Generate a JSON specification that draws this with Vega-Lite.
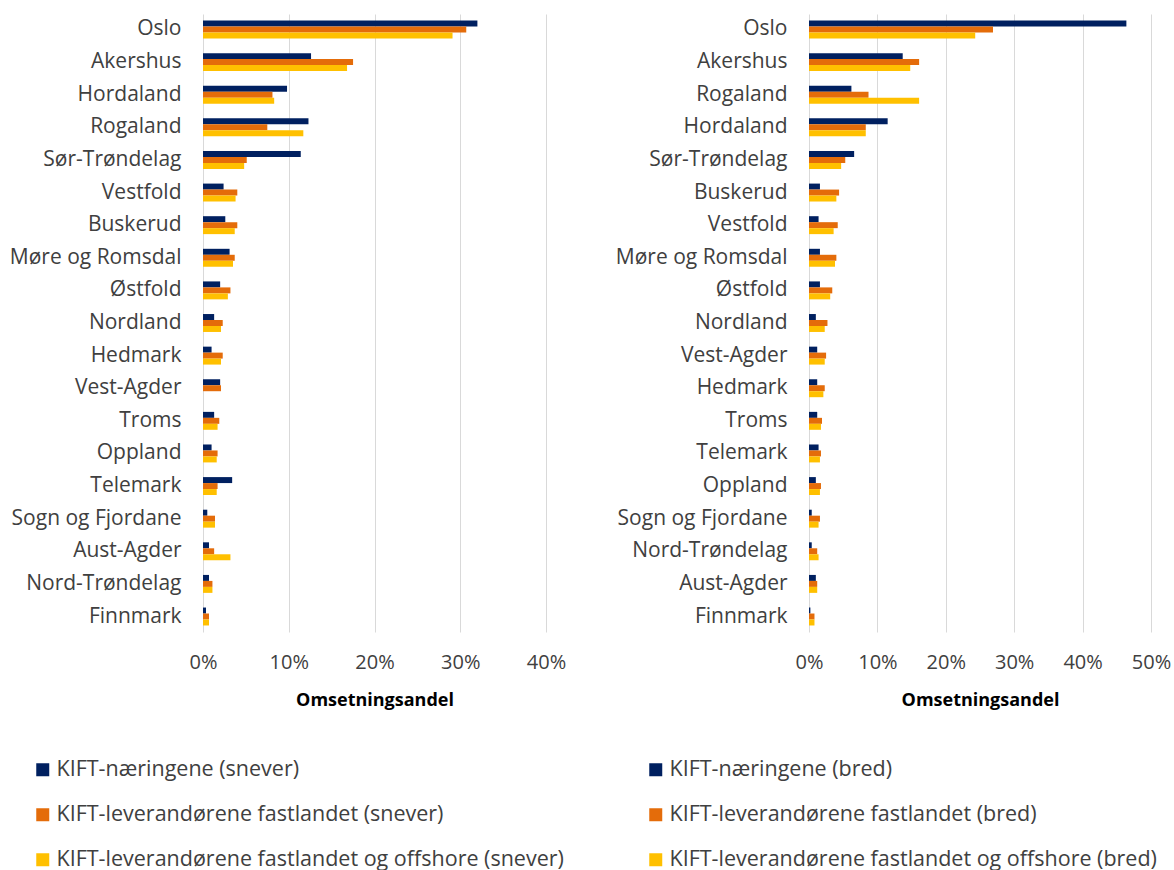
{
  "$schema": "https://vega.github.io/schema/vega-lite/v6.json",
  "padding": {"left": 9, "top": 14, "right": 0, "bottom": 4},
  "background": "white",
  "config": {
    "font": "Open Sans",
    "view": {"stroke": null},
    "axis": {"labelFont": "Open Sans", "titleFont": "Open Sans", "labelColor": "#404040", "domain": false, "ticks": false, "labelLimit": 220},
    "legend": {"labelFont": "Open Sans", "labelFontSize": 21.5, "labelColor": "#404040", "symbolType": "square", "symbolSize": 169, "symbolStrokeWidth": 0, "rowPadding": 22, "padding": 0, "labelOffset": 3, "labelLimit": 700}
  },
  "datasets": {
    "snever": [
      {"region": "Oslo", "serie": "KIFT-næringene (snever)", "andel": 0.320},
      {"region": "Oslo", "serie": "KIFT-leverandørene fastlandet (snever)", "andel": 0.307},
      {"region": "Oslo", "serie": "KIFT-leverandørene fastlandet og offshore (snever)", "andel": 0.291},
      {"region": "Akershus", "serie": "KIFT-næringene (snever)", "andel": 0.126},
      {"region": "Akershus", "serie": "KIFT-leverandørene fastlandet (snever)", "andel": 0.175},
      {"region": "Akershus", "serie": "KIFT-leverandørene fastlandet og offshore (snever)", "andel": 0.168},
      {"region": "Hordaland", "serie": "KIFT-næringene (snever)", "andel": 0.098},
      {"region": "Hordaland", "serie": "KIFT-leverandørene fastlandet (snever)", "andel": 0.081},
      {"region": "Hordaland", "serie": "KIFT-leverandørene fastlandet og offshore (snever)", "andel": 0.083},
      {"region": "Rogaland", "serie": "KIFT-næringene (snever)", "andel": 0.123},
      {"region": "Rogaland", "serie": "KIFT-leverandørene fastlandet (snever)", "andel": 0.075},
      {"region": "Rogaland", "serie": "KIFT-leverandørene fastlandet og offshore (snever)", "andel": 0.117},
      {"region": "Sør-Trøndelag", "serie": "KIFT-næringene (snever)", "andel": 0.114},
      {"region": "Sør-Trøndelag", "serie": "KIFT-leverandørene fastlandet (snever)", "andel": 0.051},
      {"region": "Sør-Trøndelag", "serie": "KIFT-leverandørene fastlandet og offshore (snever)", "andel": 0.048},
      {"region": "Vestfold", "serie": "KIFT-næringene (snever)", "andel": 0.024},
      {"region": "Vestfold", "serie": "KIFT-leverandørene fastlandet (snever)", "andel": 0.040},
      {"region": "Vestfold", "serie": "KIFT-leverandørene fastlandet og offshore (snever)", "andel": 0.038},
      {"region": "Buskerud", "serie": "KIFT-næringene (snever)", "andel": 0.026},
      {"region": "Buskerud", "serie": "KIFT-leverandørene fastlandet (snever)", "andel": 0.040},
      {"region": "Buskerud", "serie": "KIFT-leverandørene fastlandet og offshore (snever)", "andel": 0.037},
      {"region": "Møre og Romsdal", "serie": "KIFT-næringene (snever)", "andel": 0.031},
      {"region": "Møre og Romsdal", "serie": "KIFT-leverandørene fastlandet (snever)", "andel": 0.037},
      {"region": "Møre og Romsdal", "serie": "KIFT-leverandørene fastlandet og offshore (snever)", "andel": 0.035},
      {"region": "Østfold", "serie": "KIFT-næringene (snever)", "andel": 0.020},
      {"region": "Østfold", "serie": "KIFT-leverandørene fastlandet (snever)", "andel": 0.032},
      {"region": "Østfold", "serie": "KIFT-leverandørene fastlandet og offshore (snever)", "andel": 0.029},
      {"region": "Nordland", "serie": "KIFT-næringene (snever)", "andel": 0.013},
      {"region": "Nordland", "serie": "KIFT-leverandørene fastlandet (snever)", "andel": 0.023},
      {"region": "Nordland", "serie": "KIFT-leverandørene fastlandet og offshore (snever)", "andel": 0.021},
      {"region": "Hedmark", "serie": "KIFT-næringene (snever)", "andel": 0.010},
      {"region": "Hedmark", "serie": "KIFT-leverandørene fastlandet (snever)", "andel": 0.023},
      {"region": "Hedmark", "serie": "KIFT-leverandørene fastlandet og offshore (snever)", "andel": 0.021},
      {"region": "Vest-Agder", "serie": "KIFT-næringene (snever)", "andel": 0.020},
      {"region": "Vest-Agder", "serie": "KIFT-leverandørene fastlandet (snever)", "andel": 0.021},
      {"region": "Vest-Agder", "serie": "KIFT-leverandørene fastlandet og offshore (snever)", "andel": 0},
      {"region": "Troms", "serie": "KIFT-næringene (snever)", "andel": 0.013},
      {"region": "Troms", "serie": "KIFT-leverandørene fastlandet (snever)", "andel": 0.019},
      {"region": "Troms", "serie": "KIFT-leverandørene fastlandet og offshore (snever)", "andel": 0.017},
      {"region": "Oppland", "serie": "KIFT-næringene (snever)", "andel": 0.010},
      {"region": "Oppland", "serie": "KIFT-leverandørene fastlandet (snever)", "andel": 0.017},
      {"region": "Oppland", "serie": "KIFT-leverandørene fastlandet og offshore (snever)", "andel": 0.016},
      {"region": "Telemark", "serie": "KIFT-næringene (snever)", "andel": 0.034},
      {"region": "Telemark", "serie": "KIFT-leverandørene fastlandet (snever)", "andel": 0.017},
      {"region": "Telemark", "serie": "KIFT-leverandørene fastlandet og offshore (snever)", "andel": 0.016},
      {"region": "Sogn og Fjordane", "serie": "KIFT-næringene (snever)", "andel": 0.005},
      {"region": "Sogn og Fjordane", "serie": "KIFT-leverandørene fastlandet (snever)", "andel": 0.014},
      {"region": "Sogn og Fjordane", "serie": "KIFT-leverandørene fastlandet og offshore (snever)", "andel": 0.014},
      {"region": "Aust-Agder", "serie": "KIFT-næringene (snever)", "andel": 0.007},
      {"region": "Aust-Agder", "serie": "KIFT-leverandørene fastlandet (snever)", "andel": 0.013},
      {"region": "Aust-Agder", "serie": "KIFT-leverandørene fastlandet og offshore (snever)", "andel": 0.032},
      {"region": "Nord-Trøndelag", "serie": "KIFT-næringene (snever)", "andel": 0.007},
      {"region": "Nord-Trøndelag", "serie": "KIFT-leverandørene fastlandet (snever)", "andel": 0.011},
      {"region": "Nord-Trøndelag", "serie": "KIFT-leverandørene fastlandet og offshore (snever)", "andel": 0.011},
      {"region": "Finnmark", "serie": "KIFT-næringene (snever)", "andel": 0.0035},
      {"region": "Finnmark", "serie": "KIFT-leverandørene fastlandet (snever)", "andel": 0.007},
      {"region": "Finnmark", "serie": "KIFT-leverandørene fastlandet og offshore (snever)", "andel": 0.007}
    ],
    "bred": [
      {"region": "Oslo", "serie": "KIFT-næringene (bred)", "andel": 0.464},
      {"region": "Oslo", "serie": "KIFT-leverandørene fastlandet (bred)", "andel": 0.269},
      {"region": "Oslo", "serie": "KIFT-leverandørene fastlandet og offshore (bred)", "andel": 0.243},
      {"region": "Akershus", "serie": "KIFT-næringene (bred)", "andel": 0.137},
      {"region": "Akershus", "serie": "KIFT-leverandørene fastlandet (bred)", "andel": 0.161},
      {"region": "Akershus", "serie": "KIFT-leverandørene fastlandet og offshore (bred)", "andel": 0.148},
      {"region": "Rogaland", "serie": "KIFT-næringene (bred)", "andel": 0.062},
      {"region": "Rogaland", "serie": "KIFT-leverandørene fastlandet (bred)", "andel": 0.087},
      {"region": "Rogaland", "serie": "KIFT-leverandørene fastlandet og offshore (bred)", "andel": 0.161},
      {"region": "Hordaland", "serie": "KIFT-næringene (bred)", "andel": 0.115},
      {"region": "Hordaland", "serie": "KIFT-leverandørene fastlandet (bred)", "andel": 0.083},
      {"region": "Hordaland", "serie": "KIFT-leverandørene fastlandet og offshore (bred)", "andel": 0.083},
      {"region": "Sør-Trøndelag", "serie": "KIFT-næringene (bred)", "andel": 0.066},
      {"region": "Sør-Trøndelag", "serie": "KIFT-leverandørene fastlandet (bred)", "andel": 0.053},
      {"region": "Sør-Trøndelag", "serie": "KIFT-leverandørene fastlandet og offshore (bred)", "andel": 0.047},
      {"region": "Buskerud", "serie": "KIFT-næringene (bred)", "andel": 0.016},
      {"region": "Buskerud", "serie": "KIFT-leverandørene fastlandet (bred)", "andel": 0.044},
      {"region": "Buskerud", "serie": "KIFT-leverandørene fastlandet og offshore (bred)", "andel": 0.040},
      {"region": "Vestfold", "serie": "KIFT-næringene (bred)", "andel": 0.014},
      {"region": "Vestfold", "serie": "KIFT-leverandørene fastlandet (bred)", "andel": 0.042},
      {"region": "Vestfold", "serie": "KIFT-leverandørene fastlandet og offshore (bred)", "andel": 0.036},
      {"region": "Møre og Romsdal", "serie": "KIFT-næringene (bred)", "andel": 0.016},
      {"region": "Møre og Romsdal", "serie": "KIFT-leverandørene fastlandet (bred)", "andel": 0.040},
      {"region": "Møre og Romsdal", "serie": "KIFT-leverandørene fastlandet og offshore (bred)", "andel": 0.038},
      {"region": "Østfold", "serie": "KIFT-næringene (bred)", "andel": 0.016},
      {"region": "Østfold", "serie": "KIFT-leverandørene fastlandet (bred)", "andel": 0.034},
      {"region": "Østfold", "serie": "KIFT-leverandørene fastlandet og offshore (bred)", "andel": 0.031},
      {"region": "Nordland", "serie": "KIFT-næringene (bred)", "andel": 0.010},
      {"region": "Nordland", "serie": "KIFT-leverandørene fastlandet (bred)", "andel": 0.027},
      {"region": "Nordland", "serie": "KIFT-leverandørene fastlandet og offshore (bred)", "andel": 0.023},
      {"region": "Vest-Agder", "serie": "KIFT-næringene (bred)", "andel": 0.012},
      {"region": "Vest-Agder", "serie": "KIFT-leverandørene fastlandet (bred)", "andel": 0.025},
      {"region": "Vest-Agder", "serie": "KIFT-leverandørene fastlandet og offshore (bred)", "andel": 0.023},
      {"region": "Hedmark", "serie": "KIFT-næringene (bred)", "andel": 0.012},
      {"region": "Hedmark", "serie": "KIFT-leverandørene fastlandet (bred)", "andel": 0.023},
      {"region": "Hedmark", "serie": "KIFT-leverandørene fastlandet og offshore (bred)", "andel": 0.021},
      {"region": "Troms", "serie": "KIFT-næringene (bred)", "andel": 0.012},
      {"region": "Troms", "serie": "KIFT-leverandørene fastlandet (bred)", "andel": 0.019},
      {"region": "Troms", "serie": "KIFT-leverandørene fastlandet og offshore (bred)", "andel": 0.0175},
      {"region": "Telemark", "serie": "KIFT-næringene (bred)", "andel": 0.014},
      {"region": "Telemark", "serie": "KIFT-leverandørene fastlandet (bred)", "andel": 0.0175},
      {"region": "Telemark", "serie": "KIFT-leverandørene fastlandet og offshore (bred)", "andel": 0.016},
      {"region": "Oppland", "serie": "KIFT-næringene (bred)", "andel": 0.010},
      {"region": "Oppland", "serie": "KIFT-leverandørene fastlandet (bred)", "andel": 0.0175},
      {"region": "Oppland", "serie": "KIFT-leverandørene fastlandet og offshore (bred)", "andel": 0.016},
      {"region": "Sogn og Fjordane", "serie": "KIFT-næringene (bred)", "andel": 0.004},
      {"region": "Sogn og Fjordane", "serie": "KIFT-leverandørene fastlandet (bred)", "andel": 0.016},
      {"region": "Sogn og Fjordane", "serie": "KIFT-leverandørene fastlandet og offshore (bred)", "andel": 0.014},
      {"region": "Nord-Trøndelag", "serie": "KIFT-næringene (bred)", "andel": 0.004},
      {"region": "Nord-Trøndelag", "serie": "KIFT-leverandørene fastlandet (bred)", "andel": 0.012},
      {"region": "Nord-Trøndelag", "serie": "KIFT-leverandørene fastlandet og offshore (bred)", "andel": 0.014},
      {"region": "Aust-Agder", "serie": "KIFT-næringene (bred)", "andel": 0.010},
      {"region": "Aust-Agder", "serie": "KIFT-leverandørene fastlandet (bred)", "andel": 0.012},
      {"region": "Aust-Agder", "serie": "KIFT-leverandørene fastlandet og offshore (bred)", "andel": 0.012},
      {"region": "Finnmark", "serie": "KIFT-næringene (bred)", "andel": 0.002},
      {"region": "Finnmark", "serie": "KIFT-leverandørene fastlandet (bred)", "andel": 0.008},
      {"region": "Finnmark", "serie": "KIFT-leverandørene fastlandet og offshore (bred)", "andel": 0.008}
    ]
  },
  "resolve": {"scale": {"color": "independent", "x": "independent", "y": "independent", "yOffset": "independent"}},
  "spacing": 49,
  "hconcat": [
    {
      "width": 343,
      "height": 618,
      "data": {"name": "snever"},
      "mark": {"type": "bar"},
      "encoding": {
        "y": {
          "field": "region", "type": "nominal",
          "sort": ["Oslo", "Akershus", "Hordaland", "Rogaland", "Sør-Trøndelag", "Vestfold", "Buskerud", "Møre og Romsdal", "Østfold", "Nordland", "Hedmark", "Vest-Agder", "Troms", "Oppland", "Telemark", "Sogn og Fjordane", "Aust-Agder", "Nord-Trøndelag", "Finnmark"],
          "scale": {"paddingInner": 0.45},
          "axis": {"title": null, "labelFontSize": 21, "labelPadding": 22, "minExtent": 193, "maxExtent": 193, "grid": false}
        },
        "x": {
          "field": "andel", "type": "quantitative",
          "scale": {"domain": [0, 0.4], "nice": false},
          "axis": {"title": "Omsetningsandel", "titleFontSize": 18, "titleFontWeight": "bold", "titleColor": "#000000", "titlePadding": 19, "labelFontSize": 20, "labelPadding": 20, "labelFlush": false, "format": ".0%", "values": [0, 0.1, 0.2, 0.3, 0.4], "grid": true, "gridColor": "#d9d9d9", "gridWidth": 1}
        },
        "yOffset": {
          "field": "serie", "type": "nominal",
          "sort": ["KIFT-næringene (snever)", "KIFT-leverandørene fastlandet (snever)", "KIFT-leverandørene fastlandet og offshore (snever)"]
        },
        "color": {
          "field": "serie", "type": "nominal",
          "scale": {"domain": ["KIFT-næringene (snever)", "KIFT-leverandørene fastlandet (snever)", "KIFT-leverandørene fastlandet og offshore (snever)"], "range": ["#002060", "#E46C0A", "#FFC000"]},
          "legend": {"title": null, "orient": "none", "legendX": -171, "legendY": 745, "direction": "vertical"}
        }
      }
    },
    {
      "width": 342,
      "height": 618,
      "data": {"name": "bred"},
      "mark": {"type": "bar"},
      "encoding": {
        "y": {
          "field": "region", "type": "nominal",
          "sort": ["Oslo", "Akershus", "Rogaland", "Hordaland", "Sør-Trøndelag", "Buskerud", "Vestfold", "Møre og Romsdal", "Østfold", "Nordland", "Vest-Agder", "Hedmark", "Troms", "Telemark", "Oppland", "Sogn og Fjordane", "Nord-Trøndelag", "Aust-Agder", "Finnmark"],
          "scale": {"paddingInner": 0.45},
          "axis": {"title": null, "labelFontSize": 21, "labelPadding": 22, "minExtent": 193, "maxExtent": 193, "grid": false}
        },
        "x": {
          "field": "andel", "type": "quantitative",
          "scale": {"domain": [0, 0.5], "nice": false},
          "axis": {"title": "Omsetningsandel", "titleFontSize": 18, "titleFontWeight": "bold", "titleColor": "#000000", "titlePadding": 19, "labelFontSize": 20, "labelPadding": 20, "labelFlush": false, "format": ".0%", "values": [0, 0.1, 0.2, 0.3, 0.4, 0.5], "grid": true, "gridColor": "#d9d9d9", "gridWidth": 1}
        },
        "yOffset": {
          "field": "serie", "type": "nominal",
          "sort": ["KIFT-næringene (bred)", "KIFT-leverandørene fastlandet (bred)", "KIFT-leverandørene fastlandet og offshore (bred)"]
        },
        "color": {
          "field": "serie", "type": "nominal",
          "scale": {"domain": ["KIFT-næringene (bred)", "KIFT-leverandørene fastlandet (bred)", "KIFT-leverandørene fastlandet og offshore (bred)"], "range": ["#002060", "#E46C0A", "#FFC000"]},
          "legend": {"title": null, "orient": "none", "legendX": -164, "legendY": 745, "direction": "vertical"}
        }
      }
    }
  ]
}
